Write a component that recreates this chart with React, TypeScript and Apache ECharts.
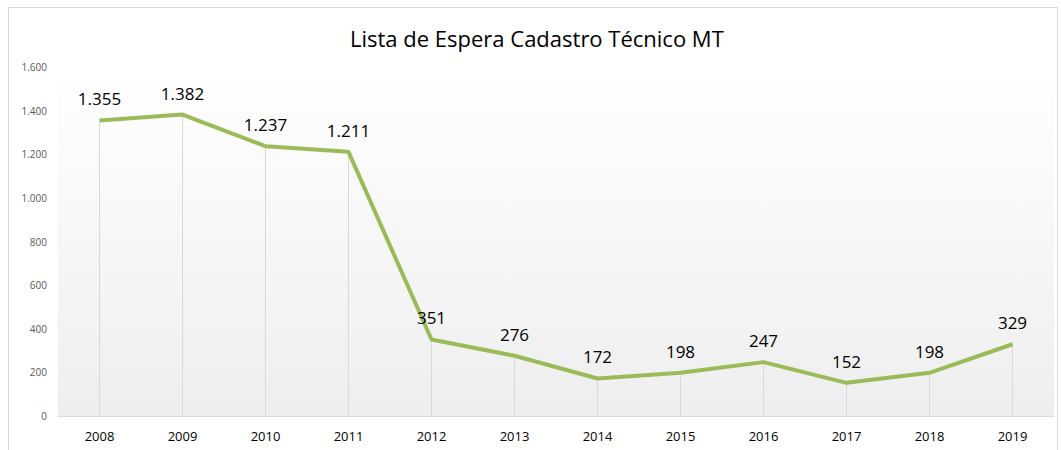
import React, { useEffect, useRef } from "react";
import * as echarts from "echarts";

const years = ["2008", "2009", "2010", "2011", "2012", "2013", "2014", "2015", "2016", "2017", "2018", "2019"];
const waiting = [1355, 1382, 1237, 1211, 351, 276, 172, 198, 247, 152, 198, 329];
const chartTitle = "Lista de Espera Cadastro Técnico MT";

const fmt = (v: number) => String(v).replace(/\B(?=(\d{3})+(?!\d))/g, ".");

export default function App() {
  const ref = useRef<HTMLDivElement>(null);
  useEffect(() => {
    const chart = echarts.init(ref.current!, null, { renderer: "svg" });
    chart.setOption({
      animation: false,
      title: {
        text: chartTitle,
        left: 345,
        top: 22,
        textStyle: { fontFamily: "Open Sans", fontSize: 22, fontWeight: "normal", color: "#000" },
      },
      graphic: [
        {
          type: "rect",
          shape: { x: 8.5, y: 7.5, width: 1049, height: 450 },
          style: { fill: "none", stroke: "#d9d9d9", lineWidth: 1 },
          silent: true,
        },
      ],
      grid: {
        left: 58,
        right: 7,
        top: 67,
        bottom: 34,
        show: true,
        borderWidth: 0,
        backgroundColor: {
          type: "linear",
          x: 0, y: 0, x2: 0, y2: 1,
          colorStops: [
            { offset: 0, color: "#ffffff" },
            { offset: 1, color: "#eeeeee" },
          ],
        },
      },
      xAxis: {
        type: "category",
        data: years,
        boundaryGap: true,
        axisLine: { lineStyle: { color: "#d9d9d9" } },
        axisTick: { show: false },
        axisLabel: { color: "#000", fontSize: 13, fontFamily: "Open Sans", margin: 13 },
      },
      yAxis: {
        type: "value",
        min: 0,
        max: 1600,
        interval: 200,
        axisLine: { show: false },
        axisTick: { show: false },
        splitLine: { show: false },
        axisLabel: { color: "#595959", fontSize: 10, fontFamily: "Open Sans", formatter: (v: number) => fmt(v), margin: 11 },
      },
      series: [
        {
          type: "bar",
          data: waiting,
          barWidth: 1,
          itemStyle: { color: "#d9d9d9" },
          silent: true,
          z: 1,
        },
        {
          type: "line",
          data: waiting,
          symbol: "circle",
          showSymbol: true,
          symbolSize: 2,
          itemStyle: { color: "rgba(155,187,89,0)" },
          lineStyle: { color: "#9bbb59", width: 4 },
          z: 3,
          label: {
            show: true,
            position: "top",
            distance: 12,
            color: "#000",
            fontSize: 17,
            fontFamily: "Open Sans",
            formatter: (p: any) => fmt(p.value),
          },
        },
      ],
    });
    return () => chart.dispose();
  }, []);
  return <div ref={ref} style={{ width: 1061, height: 450, position: "absolute", left: 0, top: 0 }} />;
}
